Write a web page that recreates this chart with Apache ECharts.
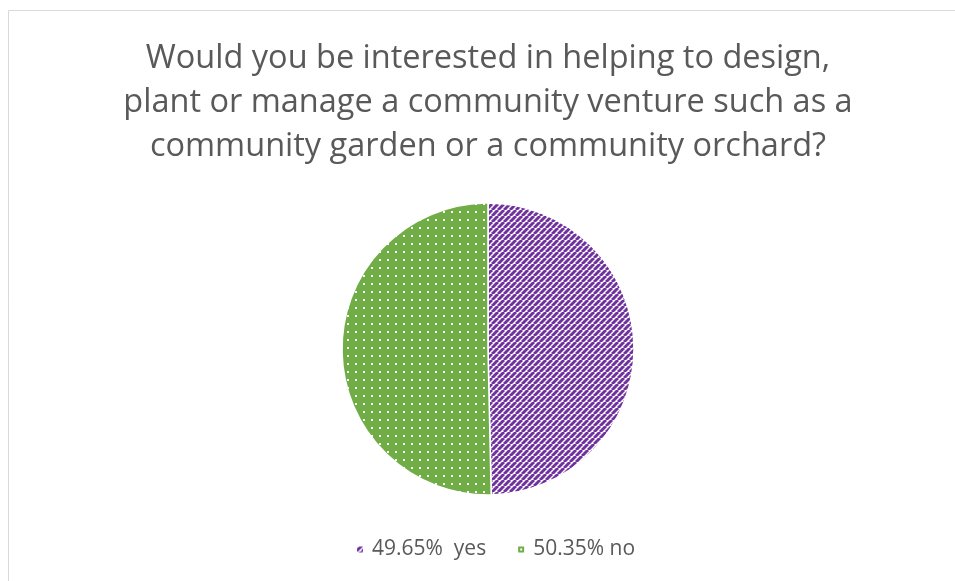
<!DOCTYPE html>
<html>
<head>
<meta charset="utf-8">
<script src="https://cdn.jsdelivr.net/npm/echarts@6/dist/echarts.min.js"></script>
<style>
html,body{margin:0;padding:0;background:#fff;}
#chart{width:955px;height:581px;}
</style>
</head>
<body>
<div id="chart"></div>
<script>
const titleText = 'Would you be interested in helping to design,\nplant or manage a community venture such as a\ncommunity garden or a community orchard?';
const categories = [' yes', 'no'];
const percentages = [49.65, 50.35];

function stripePattern() {
  const s = 6;
  const c = document.createElement('canvas');
  c.width = s; c.height = s;
  const g = c.getContext('2d');
  g.fillStyle = '#ffffff';
  g.fillRect(0, 0, s, s);
  g.strokeStyle = '#7030a0';
  g.lineWidth = 3;
  for (let k = -1; k <= 1; k++) {
    g.beginPath();
    g.moveTo(k * s, s);
    g.lineTo(k * s + s, 0);
    g.stroke();
  }
  return c;
}
function dotPattern() {
  const s = 8;
  const c = document.createElement('canvas');
  c.width = s; c.height = s;
  const g = c.getContext('2d');
  g.fillStyle = '#70ad47';
  g.fillRect(0, 0, s, s);
  g.fillStyle = '#ffffff';
  g.fillRect(3, 3, 2, 2);
  return c;
}
const patterns = [
  { image: stripePattern(), repeat: 'repeat' },
  { image: dotPattern(), repeat: 'repeat' }
];

const chart = echarts.init(document.getElementById('chart'));
chart.setOption({
  animation: false,
  backgroundColor: '#ffffff',
  graphic: [{
    type: 'rect',
    shape: { x: 8.5, y: 10.5, width: 1000, height: 700 },
    style: { fill: 'none', stroke: '#d9d9d9', lineWidth: 1 },
    silent: true
  }, {
    type: 'text',
    x: 488,
    y: 37,
    silent: true,
    style: {
      text: titleText,
      align: 'center',
      verticalAlign: 'top',
      fontFamily: 'Open Sans',
      fontSize: 32.5,
      lineHeight: 44,
      fill: '#595959'
    }
  }],
  legend: {
    bottom: 16,
    left: 350,
    icon: 'rect',
    itemWidth: 8,
    itemHeight: 8,
    itemGap: 30,
    textStyle: { fontFamily: 'Open Sans', fontSize: 21, color: '#595959', padding: [0, 0, 0, 3] },
    formatter: function (name) {
      const i = categories.indexOf(name);
      return percentages[i].toFixed(2) + '% ' + name;
    },
    data: categories
  },
  series: [{
    type: 'pie',
    center: [488, 349],
    radius: 146,
    startAngle: 90,
    clockwise: true,
    label: { show: false },
    labelLine: { show: false },
    emphasis: { disabled: true },
    itemStyle: { borderColor: '#ffffff', borderWidth: 1.5 },
    data: categories.map((c, i) => ({
      name: c,
      value: percentages[i],
      itemStyle: { color: patterns[i] }
    }))
  }]
});
</script>
</body>
</html>
